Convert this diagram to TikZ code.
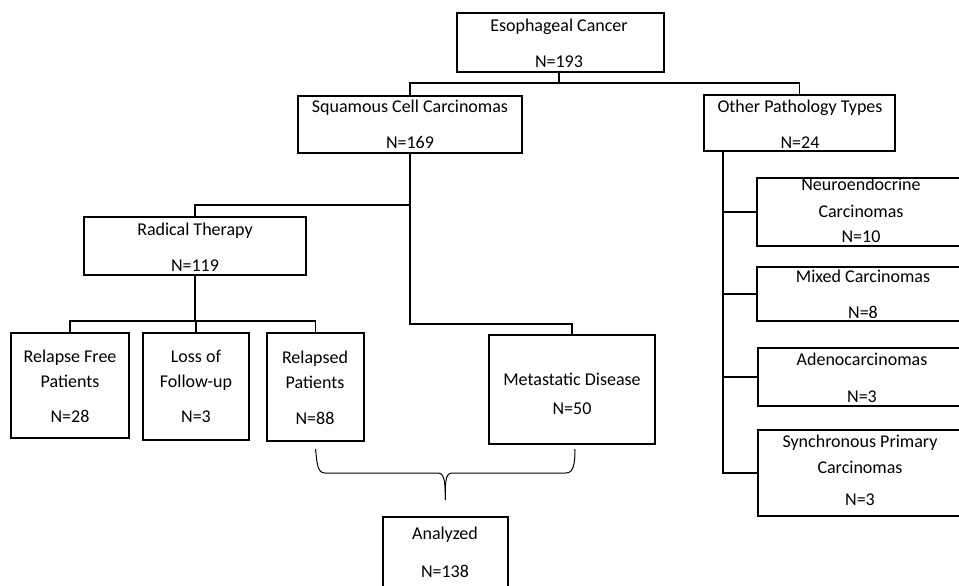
\documentclass[tikz,border=0pt]{standalone}
\usepackage{fontspec}
\setmainfont{Carlito}
\newcommand{\boxLTRB}[5]{\node[box,minimum width={#4-#2},minimum height={#5-#3}] (#1) at ({(#2+#4)/2},{(#3+#5)/2}) {};}
\begin{document}
\begin{tikzpicture}[x=1pt,y=-1pt,
  box/.style={draw, line width=1.4pt, inner sep=0pt, outer sep=0pt, rectangle},
  txt/.style={anchor=base, inner sep=0pt, font=\fontsize{18}{21}\selectfont},
  conn/.style={line width=1.4pt},
  bracel/.style={line width=1pt}]
\useasboundingbox (0,0) rectangle (959,586);
\clip (0,0) rectangle (959,586);
% boxes
\boxLTRB{eso}{457}{13}{664}{72}
\boxLTRB{sq}{298}{96}{522}{153}
\boxLTRB{oth}{704}{95}{895}{151}
\boxLTRB{rad}{84}{217}{306}{275}
\boxLTRB{rf}{11}{333}{129}{438}
\boxLTRB{lf}{143}{333}{249}{440}
\boxLTRB{rp}{267}{333}{364}{441}
\boxLTRB{met}{489}{335}{655}{444}
\boxLTRB{ana}{383}{517}{508}{600}
\boxLTRB{neu}{757}{178}{965}{246}
\boxLTRB{mix}{757}{267}{965}{321}
\boxLTRB{ade}{758}{348}{965}{406}
\boxLTRB{syn}{758}{430}{965}{516}
% texts
\node[txt] (eso1) at (559,32) {Esophageal Cancer};
\node[txt] (eso2) at (559,67) {N=193};
\node[txt] (sq1) at (410,112) {Squamous Cell Carcinomas};
\node[txt] (sq2) at (410,148) {N=169};
\node[txt] (oth1) at (800,113) {Other Pathology Types};
\node[txt] (oth2) at (800,148) {N=24};
\node[txt] (rad1) at (195,235) {Radical Therapy};
\node[txt] (rad2) at (195,271) {N=119};
\node[txt] (rf1) at (70,362) {Relapse Free};
\node[txt] (rf2) at (70,387) {Patients};
\node[txt] (rf3) at (70,422) {N=28};
\node[txt] (lf1) at (196,362) {Loss of};
\node[txt] (lf2) at (196,387) {Follow-up};
\node[txt] (lf3) at (196,422) {N=3};
\node[txt] (rp1) at (315,363) {Relapsed};
\node[txt] (rp2) at (315,388) {Patients};
\node[txt] (rp3) at (315,424) {N=88};
\node[txt] (met1) at (572,385) {Metastatic Disease};
\node[txt] (met2) at (572,414) {N=50};
\node[txt] (ana1) at (445,539) {Analyzed};
\node[txt] (ana2) at (445,577) {N=138};
\node[txt] (neu1) at (861,190) {Neuroendocrine};
\node[txt] (neu2) at (861,217) {Carcinomas};
\node[txt] (neu3) at (861,242) {N=10};
\node[txt] (mix1) at (863,282) {Mixed Carcinomas};
\node[txt] (mix2) at (863,318) {N=8};
\node[txt] (ade1) at (862,365) {Adenocarcinomas};
\node[txt] (ade2) at (862,402) {N=3};
\node[txt] (syn1) at (860,447) {Synchronous Primary};
\node[txt] (syn2) at (860,473) {Carcinomas};
\node[txt] (syn3) at (860,505) {N=3};
% connectors
\draw[conn] ([xshift=-1.5pt]eso.south) -- ++(0,11) -| (sq.north);
\draw[conn] ([xshift=-1.5pt]eso.south) -- ++(0,11) -| (oth.north);
\draw[conn] (sq.south) -- ++(0,52) -| (rad.north);
\draw[conn] (sq.south) -- ++(0,171) -| (met.north);
\draw[conn] (rad.south) -- ++(0,46) -| (rf.north);
\draw[conn] (rad.south) -- ++(0,46) -| (lf.north);
\draw[conn] (rad.south) -- ++(0,46) -| (rp.north);
\coordinate (trunk) at ([xshift=-76.5pt]oth.south);
\draw[conn] (trunk) |- (neu.west);
\draw[conn] (trunk) |- (mix.west);
\draw[conn] (trunk) |- (ade.west);
\draw[conn] (trunk) |- (syn.west);
% brace
\coordinate (bl) at ([yshift=-8pt]rp.south);
\coordinate (br) at ([xshift=3pt,yshift=-5pt]met.south);
\coordinate (bm) at ([yshift=17pt]ana.north);
\draw[bracel] (bl) .. controls (317,462) and (317,473) .. (325,473) -- (437,473)
  .. controls (444,473) and (445,478) .. (bm);
\draw[bracel] (bm) .. controls (445,478) and (446,473) .. (453,473) -- (566,473)
  .. controls (574,473) and (575,462) .. (br);
\end{tikzpicture}
\end{document}
